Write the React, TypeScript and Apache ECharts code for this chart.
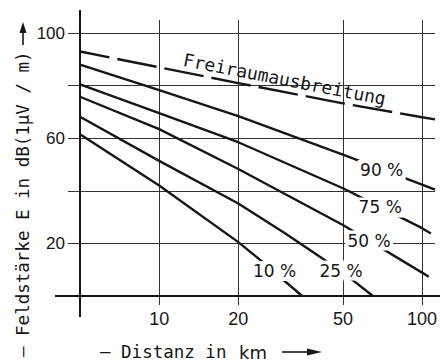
import React, { useEffect, useRef } from "react";
import * as echarts from "echarts";

// axis ticks and labels
const xTicks = [10, 20, 50, 100];
const yTicks = [0, 20, 40, 60, 80, 100];
const yLabels = [20, 60, 100];

// free-space propagation (dashed)
const freeDist = [5, 10, 20, 50, 100, 112];
const freeVals = [93, 87, 81, 73.3, 68, 67.2];

// percentile curves: distance (km) and field strength (dB)
const d90 = [5, 10, 20, 50, 100, 112];
const v90 = [88, 78.3, 68.4, 53.8, 42.4, 40.5];
const d75 = [5, 10, 20, 50, 100, 108];
const v75 = [80.5, 69.6, 58.5, 41, 25.8, 23.8];
const d50 = [5, 10, 20, 50, 100, 106];
const v50 = [75.8, 63.5, 48.3, 27, 8.9, 7.3];
const d25 = [5, 10, 20, 30, 50, 65];
const v25 = [68.2, 51.4, 35.2, 24, 9, 0];
const d10 = [5, 10, 20, 25, 30, 35];
const v10 = [61.5, 42, 20.5, 12.6, 5.7, 0];

const curveNames = ["90 %", "75 %", "50 %", "25 %", "10 %"];
const curveDist = [d90, d75, d50, d25, d10];
const curveVals = [v90, v75, v50, v25, v10];
// label anchor (km, dB) on each curve
const curveLabelAt = [
  [70.2, 47.9],
  [69.3, 33.7],
  [62.9, 21.1],
  [49.2, 9.7],
  [27.5, 9.5],
];
const freeName = "Freiraumausbreitung";
const freeLabelAt = [30, 82.5];

const INK = "#161616";

function pairs(xs: number[], ys: number[]) {
  return xs.map((x, i) => [x, ys[i]]);
}

export default function App() {
  const ref = useRef<HTMLDivElement>(null);
  useEffect(() => {
    if (!ref.current) return;
    const chart = echarts.init(ref.current, undefined, { renderer: "svg" });
    const series: any[] = [
      {
        type: "line",
        name: freeName,
        data: pairs(freeDist, freeVals),
        showSymbol: false,
        lineStyle: { color: INK, width: 2.4, type: [40, 8], dashOffset: 10 },
        markPoint: {
          symbol: "circle",
          symbolSize: 0,
          data: [{ coord: freeLabelAt }],
          label: {
            show: true,
            position: "inside",
            formatter: freeName,
            rotate: -11,
            color: INK,
            fontSize: 18,
            fontFamily: "DejaVu Sans Mono",
          },
        },
      },
      ...curveNames.map((nm, i) => ({
        type: "line",
        name: nm,
        data: pairs(curveDist[i], curveVals[i]),
        showSymbol: false,
        lineStyle: { color: INK, width: 2.4 },
        markPoint: {
          symbol: "rect",
          symbolSize: [48, 20],
          itemStyle: { color: "#ffffff" },
          data: [{ coord: curveLabelAt[i] }],
          label: {
            show: true,
            position: "inside",
            formatter: nm,
            color: INK,
            fontSize: 17,
            fontFamily: "DejaVu Sans",
          },
        },
      })),
    ];
    chart.setOption({
      animation: false,
      grid: { left: 80, top: 20, right: 5, bottom: 66, outerBoundsMode: "none" },
      xAxis: {
        type: "log",
        logBase: 10,
        min: 5,
        max: 112,
        axisLine: { show: false },
        axisTick: { show: true, length: 9, customValues: xTicks, lineStyle: { color: "#333", width: 1 } },
        axisLabel: {
          customValues: xTicks,
          margin: 14,
          fontSize: 18,
          fontFamily: "Liberation Sans",
          color: INK,
        },
        splitLine: { show: true, lineStyle: { color: "#333", width: 1 } },
        minorTick: { show: false },
        minorSplitLine: { show: false },
      },
      yAxis: {
        type: "value",
        min: 0,
        max: 105,
        axisLine: { show: false },
        axisTick: { show: true, length: 12, customValues: yTicks, lineStyle: { color: "#333", width: 1 } },
        axisLabel: {
          customValues: yLabels,
          margin: 15,
          fontSize: 17,
          fontFamily: "Liberation Sans",
          color: INK,
        },
        splitLine: { show: true, lineStyle: { color: "#333", width: 1 } },
      },
      series,
    });

    const [x0, y0] = chart.convertToPixel({ gridIndex: 0 }, [5, 0]) as number[];
    const mono = '17.5px "DejaVu Sans Mono"';
    chart.setOption({
      graphic: [
        { type: "line", shape: { x1: x0, y1: 10, x2: x0, y2: 317 }, style: { stroke: INK, lineWidth: 2 }, z: 10 },
        { type: "line", shape: { x1: 55, y1: y0, x2: 440, y2: y0 }, style: { stroke: INK, lineWidth: 2 }, z: 10 },
        {
          type: "text",
          x: 23,
          y: 357,
          rotation: Math.PI / 2,
          style: {
            text: "— Feldstärke E in dB(1µV / m)",
            font: mono,
            fill: INK,
            textAlign: "left",
            textVerticalAlign: "middle",
            align: "left",
            verticalAlign: "middle",
          },
        },
        { type: "line", shape: { x1: 23, y1: 45, x2: 23, y2: 31 }, style: { stroke: INK, lineWidth: 1.6 } },
        { type: "polygon", shape: { points: [[23, 22], [19.5, 33], [26.5, 33]] }, style: { fill: INK } },
        {
          type: "text",
          x: 100,
          y: 352,
          style: {
            text: "— Distanz in",
            font: mono,
            fill: INK,
            textAlign: "left",
            textVerticalAlign: "middle",
            align: "left",
            verticalAlign: "middle",
          },
        },
        {
          type: "text",
          x: 239,
          y: 352,
          style: {
            text: "km",
            font: '18px "DejaVu Sans"',
            fill: INK,
            textAlign: "left",
            textVerticalAlign: "middle",
            align: "left",
            verticalAlign: "middle",
          },
        },
        { type: "line", shape: { x1: 282, y1: 352, x2: 310, y2: 352 }, style: { stroke: INK, lineWidth: 1.6 } },
        { type: "polygon", shape: { points: [[322, 352], [307, 348.5], [307, 355.5]] }, style: { fill: INK } },
      ],
    });

    return () => chart.dispose();
  }, []);
  return (
    <div
      ref={ref}
      style={{ position: "fixed", left: 0, top: 0, width: 440, height: 362, background: "#fff" }}
    />
  );
}
